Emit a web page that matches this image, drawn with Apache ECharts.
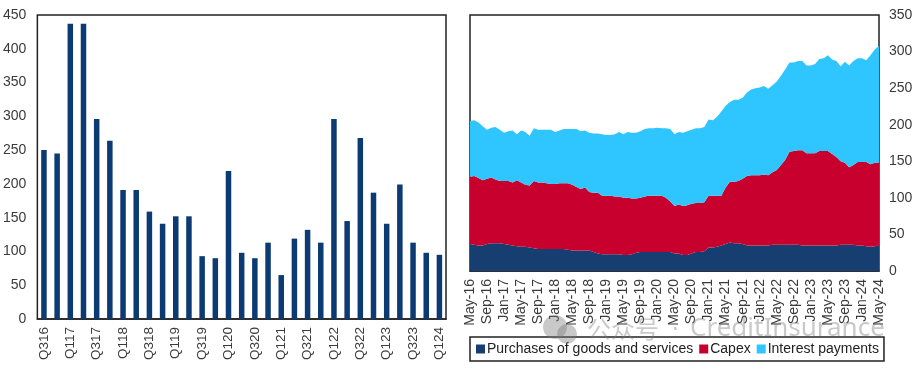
<!DOCTYPE html>
<html><head><meta charset="utf-8">
<style>html,body{margin:0;padding:0;background:#fff}#c{width:916px;height:369px}</style>
<script src="https://cdn.jsdelivr.net/npm/echarts@6/dist/echarts.min.js"></script>
</head><body><div id="c"></div>
<script>
const quarters = ['Q316','Q416','Q117','Q217','Q317','Q417','Q118','Q218','Q318','Q418','Q119','Q219','Q319','Q419','Q120','Q220','Q320','Q420','Q121','Q221','Q321','Q421','Q122','Q222','Q322','Q422','Q123','Q223','Q323','Q423','Q124'];
const quarterValues = [250,245,437,437,296,264,191,191,159,141,152,152,93,90,219,98,90,113,65,119,132,113,296,145,268,187,141,199,113,98,95];
const months = ['May-16','Jun-16','Jul-16','Aug-16','Sep-16','Oct-16','Nov-16','Dec-16',
'Jan-17','Feb-17','Mar-17','Apr-17','May-17','Jun-17','Jul-17','Aug-17','Sep-17','Oct-17','Nov-17','Dec-17',
'Jan-18','Feb-18','Mar-18','Apr-18','May-18','Jun-18','Jul-18','Aug-18','Sep-18','Oct-18','Nov-18','Dec-18',
'Jan-19','Feb-19','Mar-19','Apr-19','May-19','Jun-19','Jul-19','Aug-19','Sep-19','Oct-19','Nov-19','Dec-19',
'Jan-20','Feb-20','Mar-20','Apr-20','May-20','Jun-20','Jul-20','Aug-20','Sep-20','Oct-20','Nov-20','Dec-20',
'Jan-21','Feb-21','Mar-21','Apr-21','May-21','Jun-21','Jul-21','Aug-21','Sep-21','Oct-21','Nov-21','Dec-21',
'Jan-22','Feb-22','Mar-22','Apr-22','May-22','Jun-22','Jul-22','Aug-22','Sep-22','Oct-22','Nov-22','Dec-22',
'Jan-23','Feb-23','Mar-23','Apr-23','May-23','Jun-23','Jul-23','Aug-23','Sep-23','Oct-23','Nov-23','Dec-23',
'Jan-24','Feb-24','Mar-24','Apr-24','May-24'];
const purchases = [37,36,35,35,37,38,38,38,
37,36,35,34,33,33,32,31,30,30,30,30,
30,30,30,29,28,28,28,28,28,26,24,23,
23,23,23,23,22,22,23,25,26,26,26,26,
26,26,26,26,24,24,22,22,24,26,26,27,
32,32,33,35,37,39,38,38,37,35,35,35,
35,35,35,36,36,36,36,36,36,36,35,35,
35,35,35,35,35,35,35,36,36,36,36,35,
35,34,33,34,35];
const capex = [92,94,92,89,89,90,87,85,
86,87,86,90,88,85,85,92,91,91,90,89,
89,90,90,91,90,87,84,86,80,81,83,80,
80,80,79,79,78,78,76,74,74,76,77,77,
77,77,74,69,65,67,67,68,68,67,67,67,
71,71,70,68,77,83,84,85,89,95,96,96,
96,97,96,99,102,109,116,127,128,129,130,126,
126,126,129,129,129,125,121,114,112,106,109,114,
114,115,113,114,113];
const interest = [76,76,76,74,67,68,72,70,
66,68,71,63,71,72,68,72,72,72,73,74,
71,72,74,74,76,79,79,78,81,81,81,84,
83,83,85,88,87,90,90,90,91,92,92,92,
93,92,95,99,98,99,100,101,101,102,102,103,
104,103,108,115,112,109,112,111,111,114,117,119,
120,121,118,119,121,122,124,122,121,122,122,120,
120,122,126,127,131,129,131,130,138,139,142,142,
142,139,149,155,160];
const seriesNames = ['Purchases of goods and services','Capex','Interest payments'];

const txt = '#3a3a3a', font = '"Liberation Sans", Arial, sans-serif';
const chart = echarts.init(document.getElementById('c'), null, {renderer:'canvas'});
const frame = {show:true, borderColor:'#222', borderWidth:1.5, backgroundColor:'#fff'};
const area = (i, data, color) => ({name:seriesNames[i], type:'line', stack:'t', xAxisIndex:1, yAxisIndex:1,
  data, symbol:'none', smooth:false, lineStyle:{width:0}, areaStyle:{color, opacity:1}, itemStyle:{color}, z:2});
const wm = 'rgba(120,120,120,0.4)';
chart.setOption({
  animation:false,
  textStyle:{fontFamily:font},
  grid:[
    Object.assign({left:37, top:15, width:409, height:304}, frame),
    Object.assign({left:470, top:15, width:409, height:256}, frame)
  ],
  xAxis:[
    {gridIndex:0, type:'category', data:quarters, boundaryGap:true,
     axisTick:{show:false}, axisLine:{lineStyle:{color:'#222', width:1.5}},
     axisLabel:{interval:1, rotate:90, color:txt, fontSize:13.5, margin:8, fontFamily:font}},
    {gridIndex:1, type:'category', data:months, boundaryGap:false,
     axisTick:{show:false}, axisLine:{lineStyle:{color:'#222', width:1.5}},
     axisLabel:{interval:3, rotate:90, color:txt, fontSize:14, margin:8, fontFamily:font, hideOverlap:false, showMinLabel:true, showMaxLabel:true}}
  ],
  yAxis:[
    {gridIndex:0, type:'value', min:0, max:450, interval:50, splitLine:{show:false},
     axisLine:{show:false}, axisTick:{show:false},
     axisLabel:{color:txt, fontSize:14, margin:11, fontFamily:font}},
    {gridIndex:1, type:'value', position:'right', min:0, max:350, interval:50, splitLine:{show:false},
     axisLine:{show:false}, axisTick:{show:false},
     axisLabel:{color:txt, fontSize:14, margin:10, fontFamily:font}}
  ],
  legend:{left:470, top:337, data:seriesNames, icon:'rect', itemWidth:9, itemHeight:9, itemGap:6,
    padding:[5,5,5,6], borderColor:'#222', borderWidth:1.5, backgroundColor:'#fff',
    textStyle:{color:'#222', fontSize:14, padding:[0,0,0,-3], fontFamily:font}},
  series:[
    {type:'bar', xAxisIndex:0, yAxisIndex:0, data:quarterValues, barWidth:5.5, silent:true, legendHoverLink:false,
     itemStyle:{color:'#0c3a72'}, name:'Quarterly'},
    area(0,purchases,'#163e70'),
    area(1,capex,'#c8002e'),
    area(2,interest,'#2fc6ff')
  ],
  graphic:[
    {type:'circle', z:100, silent:true, shape:{cx:555, cy:327, r:12}, style:{fill:wm}},
    {type:'circle', z:100, silent:true, shape:{cx:567, cy:334, r:10}, style:{fill:wm}},
    {type:'text', left:587, top:317, z:100, silent:true,
     style:{text:'公众号', fill:wm, font:'24px "Noto Sans CJK SC", sans-serif'}},
    {type:'text', left:671, top:316, z:100, silent:true,
     style:{text:'·', fill:wm, font:'26px "Liberation Sans", sans-serif'}},
    {type:'text', left:690, top:316, z:100, silent:true,
     style:{text:'CreditInsurance', fill:wm, font:'26px "Noto Sans", sans-serif'}}
  ]
});
</script></body></html>
